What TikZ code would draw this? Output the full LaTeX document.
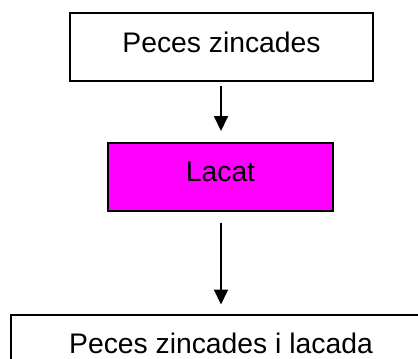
\documentclass[tikz,border=0pt]{standalone}
\usepackage{fontspec}
\setmainfont{Liberation Sans}
\usetikzlibrary{arrows.meta}
\definecolor{mag}{RGB}{255,0,255}
\begin{document}
\begin{tikzpicture}[x=1pt,y=-1pt,
  boxstyle/.style={draw=black,line width=2pt,rectangle,inner sep=0pt,
    text depth=10pt,font=\fontsize{28.3}{34}\selectfont,text=black},
  flowarrow/.style={line width=2pt,-{Triangle[length=15pt,width=14pt]}}]
\useasboundingbox (0,0) rectangle (418,359);
\clip (0,0) rectangle (418,359);
\node[boxstyle,minimum width=303pt,minimum height=68pt] (top) at (221.5,47) {Peces zincades};
\node[boxstyle,fill=mag,minimum width=225pt,minimum height=68pt] (mid) at (220.5,177) {Lacat};
\node[boxstyle,minimum width=420pt,minimum height=68pt] (bot) at (221,348.5) {Peces zincades i lacada};
\draw[flowarrow,shorten <=4pt,shorten >=11pt] (top.south -| 221,0) -- (mid.north -| 221,0);
\draw[flowarrow,shorten <=11pt,shorten >=9pt] (mid.south -| 221,0) -- (bot.north -| 221,0);
\end{tikzpicture}
\end{document}
